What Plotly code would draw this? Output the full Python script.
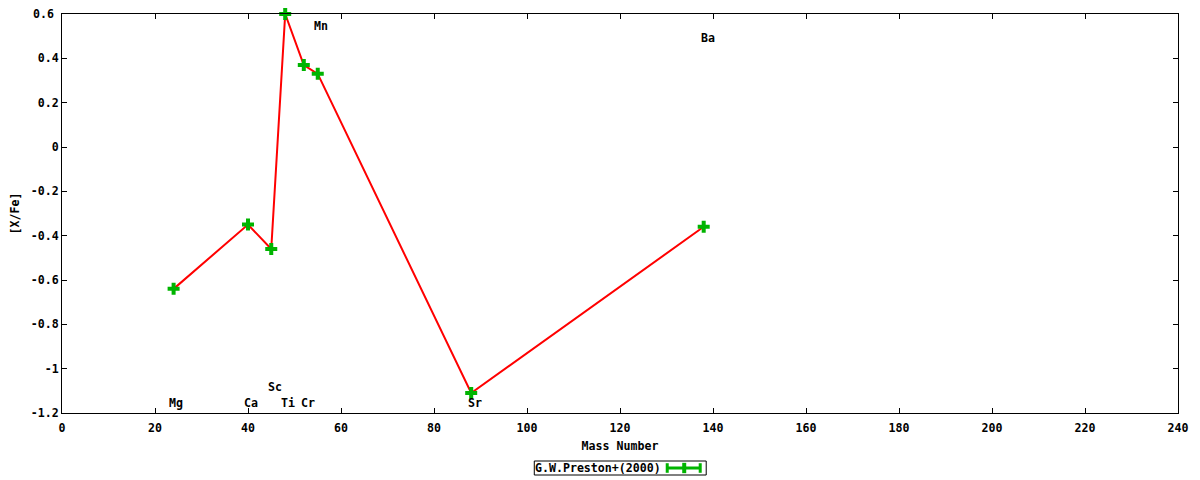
import plotly.graph_objects as go

# Data
elements = ["Mg", "Ca", "Sc", "Ti", "Cr", "Mn", "Sr", "Ba"]
mass_number = [24, 40, 45, 48, 52, 55, 88, 138]
x_fe = [-0.64, -0.35, -0.46, 0.60, 0.37, 0.33, -1.11, -0.36]
label_x = [24.6, 40.7, 45.7, 48.7, 52.8, 55.8, 88.9, 139.0]
label_y = [-1.155, -1.155, -1.083, -1.155, -1.155, 0.546, -1.155, 0.49]
y_ticks = [-1.2, -1.0, -0.8, -0.6, -0.4, -0.2, 0, 0.2, 0.4]
y_ticktext = ["-1.2", "-1", "-0.8", "-0.6", "-0.4", "-0.2", "0", "0.2", "0.4"]
y_top_tick = 0.6
y_top_text = "0.6"
series_name = "G.W.Preston+(2000)"

FONT = "DejaVu Sans Mono"
FS = 11.6
GREEN = "#00b400"
TXT = dict(family=FONT, size=FS, color="black", weight="bold")

fig = go.Figure()
fig.add_trace(go.Scatter(x=mass_number, y=x_fe, mode="lines",
                         line=dict(color="#ff0000", width=2), cliponaxis=False,
                         showlegend=False, hoverinfo="skip"))
fig.add_trace(go.Scatter(x=mass_number, y=x_fe, mode="markers", cliponaxis=False,
                         marker=dict(symbol="cross", size=10, color=GREEN,
                                     line=dict(width=0)),
                         name=series_name, showlegend=False))

for el, lx, ly in zip(elements, label_x, label_y):
    fig.add_annotation(x=lx, y=ly, text=el, showarrow=False,
                       xanchor="center", yanchor="middle", font=TXT)

# top y tick label (kept as annotation so it is not clipped at the figure edge)
fig.add_annotation(xref="paper", yref="y", x=0, y=y_top_tick, text=y_top_text,
                   showarrow=False, xanchor="right", yanchor="middle", xshift=-6,
                   font=TXT)

# Legend (gnuplot style box below the plot)
PX0, PX1, PY0, PY1 = 61.5, 1178.0, 14.0, 413.0
def px(v):
    return (v - PX0) / (PX1 - PX0)
def py(v):
    return (PY1 - v) / (PY1 - PY0)

lx0, lx1 = px(534), px(706)
ly0, ly1 = py(475), py(461)
fig.add_shape(type="rect", xref="paper", yref="paper", x0=lx0, x1=lx1, y0=ly0, y1=ly1,
              line=dict(color="black", width=1), fillcolor="white")
fig.add_annotation(xref="paper", yref="paper", x=lx0 - 0.001, y=(ly0 + ly1) / 2,
                   text=series_name, showarrow=False, xanchor="left", yanchor="middle",
                   font=TXT)
sx0, sx1, sxm = px(667), px(700), px(684)
sym = (ly0 + ly1) / 2
fig.add_shape(type="line", xref="paper", yref="paper", x0=sx0, x1=sx1, y0=sym, y1=sym,
              line=dict(color=GREEN, width=3))
for sx in (sx0, sx1):
    fig.add_shape(type="line", xref="paper", yref="paper", x0=sx, x1=sx,
                  y0=sym - 0.012, y1=sym + 0.012, line=dict(color=GREEN, width=3))
fig.add_shape(type="line", xref="paper", yref="paper", x0=sxm, x1=sxm,
              y0=sym - 0.013, y1=sym + 0.013, line=dict(color=GREEN, width=4))

axis_common = dict(showline=True, linecolor="black", linewidth=1, mirror="ticks",
                   ticks="inside", ticklen=5, tickcolor="black", showgrid=False,
                   zeroline=False, automargin=False, tickfont=TXT)

fig.update_layout(
    width=1200, height=480,
    margin=dict(l=54, r=30, t=6, b=75),
    paper_bgcolor="white", plot_bgcolor="white",
    xaxis=dict(range=[0, 240], dtick=20, tick0=0, ticklabelstandoff=4,
               title=dict(text="Mass Number", standoff=7, font=TXT),
               **axis_common),
    yaxis=dict(range=[-1.2, 0.6], tickvals=y_ticks, ticktext=y_ticktext,
               title=dict(text="[X/Fe]", standoff=15, font=TXT),
               **axis_common),
)

fig.write_html("out.html")
